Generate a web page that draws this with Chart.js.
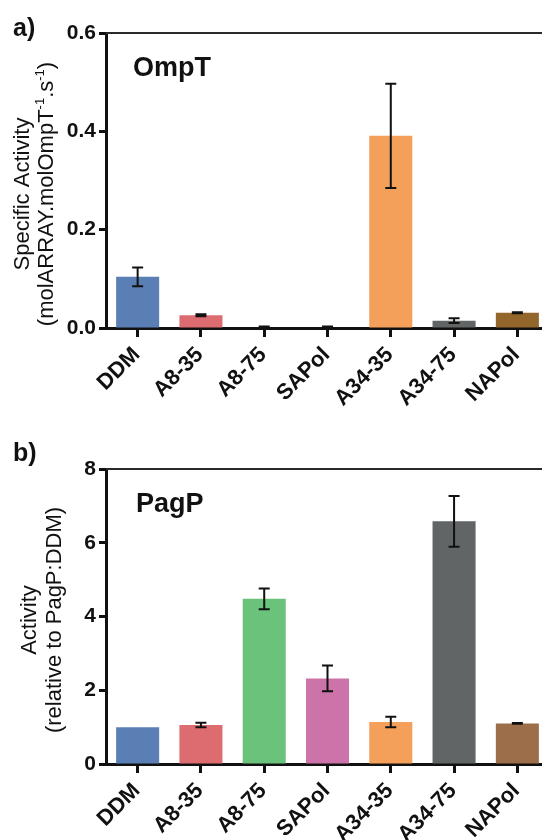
<!DOCTYPE html>
<html><head><meta charset="utf-8">
<script src="https://cdn.jsdelivr.net/npm/chart.js@4.4.1/dist/chart.umd.min.js"></script>
<style>
html,body{margin:0;padding:0;background:#fff;overflow:hidden;width:542px;height:840px;position:relative;}
.wrap{position:absolute;left:0;width:560px;}
.panel{position:absolute;left:13px;font:bold 25px "Liberation Sans",Arial,sans-serif;line-height:1;color:#111;}
</style></head><body>
<div class="wrap" style="top:0;height:430px"><canvas id="c1" width="560" height="430"></canvas></div>
<div class="wrap" style="top:436px;height:404px"><canvas id="c2" width="560" height="404"></canvas></div>
<div class="panel" style="top:15px">a)</div>
<div class="panel" style="top:440px">b)</div>
<script>
// ---- data ----
const categories = ['DDM', 'A8-35', 'A8-75', 'SAPol', 'A34-35', 'A34-75', 'NAPol'];
const ompTValues = [0.104, 0.026, 0.001, 0.001, 0.391, 0.015, 0.031];
const ompTErrors = [0.019, 0.002, 0.002, 0.002, 0.106, 0.005, 0.001];
const ompTTicks = [0, 0.2, 0.4, 0.6];
const pagPValues = [1.0, 1.06, 4.48, 2.32, 1.14, 6.58, 1.10];
const pagPErrors = [0, 0.06, 0.28, 0.35, 0.14, 0.69, 0.01];
const pagPTicks = [0, 2, 4, 6, 8];
const ompTColors = ['#5a7fb5', '#dc6c70', '#6bc27a', '#cc74a9', '#f49f5a', '#616565', '#93662b'];
const pagPColors = ['#5a7fb5', '#dc6c70', '#6bc27a', '#cc74a9', '#f49f5a', '#616565', '#9c6e4a'];

const FONT = '"Liberation Sans", Arial, sans-serif';

const errorBarPlugin = {
  id: 'errorBars',
  afterDatasetsDraw(chart, args, opts) {
    const {ctx} = chart;
    const meta = chart.getDatasetMeta(0);
    const y = chart.scales.y;
    const vals = chart.data.datasets[0].data;
    const errs = opts.errors || [];
    ctx.save();
    ctx.strokeStyle = '#111';
    ctx.lineWidth = 2;
    meta.data.forEach((bar, i) => {
      const e = errs[i];
      if (!e) return;
      const yt = y.getPixelForValue(vals[i] + e);
      const yb = y.getPixelForValue(Math.max(0, vals[i] - e));
      const x = bar.x;
      ctx.beginPath();
      ctx.moveTo(x, yt); ctx.lineTo(x, yb);
      ctx.moveTo(x - 5.5, yt); ctx.lineTo(x + 5.5, yt);
      ctx.moveTo(x - 5.5, yb); ctx.lineTo(x + 5.5, yb);
      ctx.stroke();
    });
    ctx.restore();
  }
};

const framePlugin = {
  id: 'frame',
  afterDraw(chart, args, opts) {
    const {ctx, chartArea: a} = chart;
    ctx.save();
    ctx.strokeStyle = '#2a2a2a';
    ctx.lineWidth = 2;
    ctx.beginPath();
    ctx.moveTo(a.left, a.top); ctx.lineTo(a.right + 20, a.top);
    ctx.stroke();
    ctx.fillStyle = '#111';
    ctx.font = 'bold 27px ' + FONT;
    ctx.textBaseline = 'alphabetic';
    ctx.textAlign = 'left';
    ctx.fillText(opts.title, a.left + opts.dx, a.top + 43);
    const fs = 22;
    opts.lines.forEach((segs, li) => {
      ctx.save();
      ctx.translate(opts.xs[li], opts.cy);
      ctx.rotate(-Math.PI / 2);
      let total = 0;
      segs.forEach(s => {
        ctx.font = (s.sup ? 13 : fs) + 'px ' + FONT;
        total += ctx.measureText(s.t).width;
      });
      let x = -total / 2;
      ctx.textAlign = 'left';
      ctx.textBaseline = 'alphabetic';
      segs.forEach(s => {
        ctx.font = (s.sup ? 13 : fs) + 'px ' + FONT;
        ctx.fillText(s.t, x, s.sup ? 0.35 * fs - 9 : 0.35 * fs);
        x += ctx.measureText(s.t).width;
      });
      ctx.restore();
    });
    ctx.restore();
  }
};

function makeChart(id, xHeight, values, errors, colors, ticks, maxV, fmt, frameOpts) {
  return new Chart(document.getElementById(id), {
    type: 'bar',
    data: {
      labels: categories,
      datasets: [{data: values, backgroundColor: colors, borderWidth: 0,
                  categoryPercentage: 1.0, barPercentage: 0.68}]
    },
    options: {
      responsive: false,
      animation: false,
      events: [],
      layout: {padding: {top: 33, right: 11, bottom: 0, left: 0}},
      plugins: {legend: {display: false}, tooltip: {enabled: false},
                errorBars: {errors: errors}, frame: frameOpts},
      scales: {
        x: {
          offset: true,
          grid: {display: true, drawOnChartArea: false, drawTicks: true, tickLength: 9,
                 tickWidth: 3, tickColor: '#111', offset: false},
          border: {display: true, width: 3, color: '#111'},
          ticks: {font: {family: FONT, size: 22, weight: 'bold'}, color: '#111',
                  minRotation: 45, maxRotation: 45, autoSkip: false, padding: 5, labelOffset: -1},
          afterFit: s => { s.height = xHeight; }
        },
        y: {
          min: 0, max: maxV,
          grid: {display: true, drawOnChartArea: false, drawTicks: true, tickLength: 7,
                 tickWidth: 3, tickColor: '#111'},
          border: {display: true, width: 3, color: '#111'},
          ticks: {font: {family: FONT, size: 21, weight: 'bold'}, color: '#111', padding: 3,
                  callback: fmt},
          afterBuildTicks: s => { s.ticks = ticks.map(v => ({value: v})); },
          afterFit: s => { s.width = 106; }
        }
      }
    },
    plugins: [errorBarPlugin, framePlugin]
  });
}

makeChart('c1', 102, ompTValues, ompTErrors, ompTColors, ompTTicks, 0.6, v => Number(v).toFixed(1), {
  title: 'OmpT', dx: 27, xs: [21, 45], cy: 194,
  lines: [[{t: 'Specific Activity'}],
          [{t: '(molARRAY.molOmpT'}, {t: '-1', sup: true}, {t: '.s'}, {t: '-1', sup: true}, {t: ')'}]]
});
makeChart('c2', 76, pagPValues, pagPErrors, pagPColors, pagPTicks, 8, v => String(v), {
  title: 'PagP', dx: 30, xs: [28, 53], cy: 184,
  lines: [[{t: 'Activity'}], [{t: '(relative to PagP:DDM)'}]]
});
</script>
</body></html>
